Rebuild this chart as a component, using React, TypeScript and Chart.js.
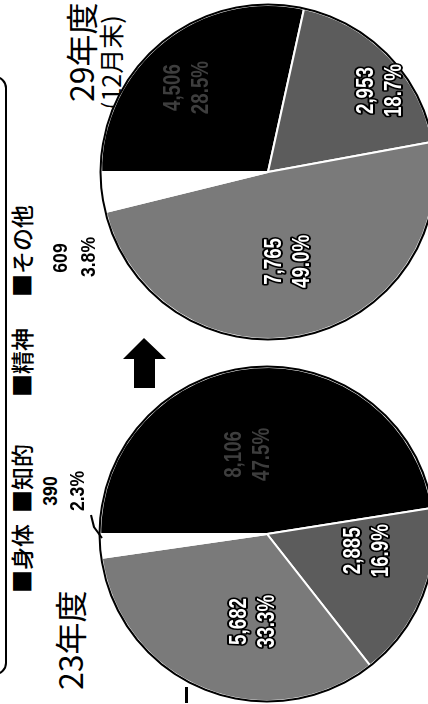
import React, { useEffect, useRef } from 'react';
import { Chart, registerables } from 'chart.js';

Chart.register(...registerables);

// ---- data ----
const categories = ['身体', '知的', '精神', 'その他'];
const values23 = [8106, 2885, 5682, 390];
const values29 = [4506, 2953, 7765, 609];
const title23 = '23年度';
const title29 = '29年度';
const subtitle29 = '(12月末)';

// ---- style ----
const sliceColors = ['#000000', '#5c5c5c', '#7a7a7a', '#ffffff'];
const R = 167;
const NUM_FONT = '"Liberation Sans", Arial, sans-serif';
const JP_FONT = '"Noto Sans CJK JP", "Noto Sans", sans-serif';
// per-slice label placement: angle tweak (deg) and radius fraction
const place23 = [
  { da: -9, rf: 0.49 },
  { da: -12, rf: 0.61 },
  { da: -13, rf: 0.53 },
];
const place29 = [
  { da: -5, rf: 0.7 },
  { da: 8, rf: 0.83 },
  { da: -1, rf: 0.55 },
];

const fmt = (v: number) => v.toLocaleString('en-US');
const pct = (vals: number[], i: number) =>
  ((vals[i] / vals.reduce((a, b) => a + b, 0)) * 100).toFixed(1) + '%';

function makeLabelPlugin(values: number[], places: { da: number; rf: number }[]) {
  return {
    id: 'sliceLabels',
    afterDatasetsDraw(chart: any) {
      const ctx = chart.ctx as CanvasRenderingContext2D;
      const meta = chart.getDatasetMeta(0);
      const a0 = meta.data[0].getProps(['x', 'y', 'outerRadius']);
      ctx.save();
      ctx.beginPath();
      ctx.arc(a0.x, a0.y, a0.outerRadius + 0.5, 0, Math.PI * 2);
      ctx.lineWidth = 2;
      ctx.strokeStyle = '#000';
      ctx.stroke();
      ctx.font = `bold 24px ${NUM_FONT}`;
      ctx.textAlign = 'center';
      ctx.textBaseline = 'middle';
      ctx.lineJoin = 'round';
      places.forEach((p, i) => {
        const arc = meta.data[i].getProps(['x', 'y', 'startAngle', 'endAngle', 'outerRadius']);
        const mid = (arc.startAngle + arc.endAngle) / 2 + (p.da * Math.PI) / 180;
        const cx = arc.x + Math.cos(mid) * p.rf * arc.outerRadius;
        const cy = arc.y + Math.sin(mid) * p.rf * arc.outerRadius;
        const lines = [fmt(values[i]), pct(values, i)];
        lines.forEach((t, k) => {
          const y = cy + (k === 0 ? -14 : 14);
          ctx.save();
          ctx.translate(cx, y);
          ctx.scale(0.78, 1);
          if (sliceColors[i] === '#000000') {
            ctx.fillStyle = '#3e3e3e';
            ctx.fillText(t, 0, 0);
          } else {
            ctx.lineWidth = 4;
            ctx.strokeStyle = '#000';
            ctx.strokeText(t, 0, 0);
            ctx.fillStyle = '#fff';
            ctx.fillText(t, 0, 0);
          }
          ctx.restore();
        });
      });
      ctx.restore();
    },
  };
}

function PieCanvas(props: { values: number[]; places: { da: number; rf: number }[]; cx: number; cy: number }) {
  const ref = useRef<HTMLCanvasElement>(null);
  useEffect(() => {
    const chart = new Chart(ref.current as HTMLCanvasElement, {
      type: 'pie',
      data: {
        labels: categories,
        datasets: [
          {
            data: props.values,
            backgroundColor: sliceColors,
            borderColor: '#ffffff',
            borderWidth: 2,
          },
        ],
      },
      options: {
        responsive: false,
        animation: false,
        radius: R,
        layout: { padding: 0 },
        plugins: { legend: { display: false }, tooltip: { enabled: false } },
      } as any,
      plugins: [makeLabelPlugin(props.values, props.places)],
    });
    return () => chart.destroy();
  }, []);
  return (
    <canvas
      ref={ref}
      width={360}
      height={360}
      style={{ position: 'absolute', left: props.cx - 180, top: props.cy - 180, width: 360, height: 360 }}
    />
  );
}

const abs = (s: React.CSSProperties): React.CSSProperties => ({
  position: 'absolute',
  whiteSpace: 'nowrap',
  lineHeight: 1,
  margin: 0,
  ...s,
});

const numStyle = (left: number, top: number): React.CSSProperties =>
  abs({
    left,
    top,
    fontSize: 20,
    fontWeight: 'bold',
    fontFamily: NUM_FONT,
    transform: 'translateX(-50%) scaleX(0.88)',
  });

export default function App() {
  const legendX = [111, 191, 307, 407];
  return (
    <div style={{ position: 'fixed', left: 0, top: 0, width: 428, height: 704, overflow: 'hidden', background: '#fff' }}>
      <div
        style={{
          position: 'absolute',
          left: 0,
          top: 0,
          width: 704,
          height: 428,
          overflow: 'hidden',
          transformOrigin: '0 0',
          transform: 'translate(0px, 704px) rotate(-90deg)',
          background: '#fff',
          fontFamily: JP_FONT,
          color: '#000',
        }}
      >
        {/* legend frame */}
        <div
          style={{
            position: 'absolute',
            left: 29,
            top: -40,
            width: 595,
            height: 43,
            border: '2px solid #000',
            borderRadius: 12,
          }}
        />
        {categories.map((c, i) => (
          <div key={c} style={abs({ left: legendX[i], top: 10, fontSize: 23, fontWeight: 500 })}>
            {'■' + c}
          </div>
        ))}
        {/* titles */}
        <div style={abs({ left: 14, top: 53, fontSize: 32 })}>{title23}</div>
        <div style={abs({ left: 602, top: 64, fontSize: 32 })}>{title29}</div>
        <div style={abs({ left: 594, top: 98, fontSize: 25 })}>{subtitle29}</div>

        <PieCanvas values={values23} places={place23} cx={170} cy={267} />
        <PieCanvas values={values29} places={place29} cx={532} cy={268} />

        {/* outside labels for small slice */}
        <div style={numStyle(213, 40)}>{fmt(values23[3])}</div>
        <div style={numStyle(213, 67)}>{pct(values23, 3)}</div>
        <div style={numStyle(446, 50)}>{fmt(values29[3])}</div>
        <div style={numStyle(447, 78)}>{pct(values29, 3)}</div>

        <svg width={704} height={428} style={{ position: 'absolute', left: 0, top: 0 }}>
          <polyline points="189,91 177,94 166,102" fill="none" stroke="#000" strokeWidth={2} />
          <polygon points="316,134 345,134 345,123 366,144 345,166 345,155 316,155" fill="#000" />
          <rect x={1} y={185} width={16} height={3} fill="#000" />
        </svg>
      </div>
    </div>
  );
}
